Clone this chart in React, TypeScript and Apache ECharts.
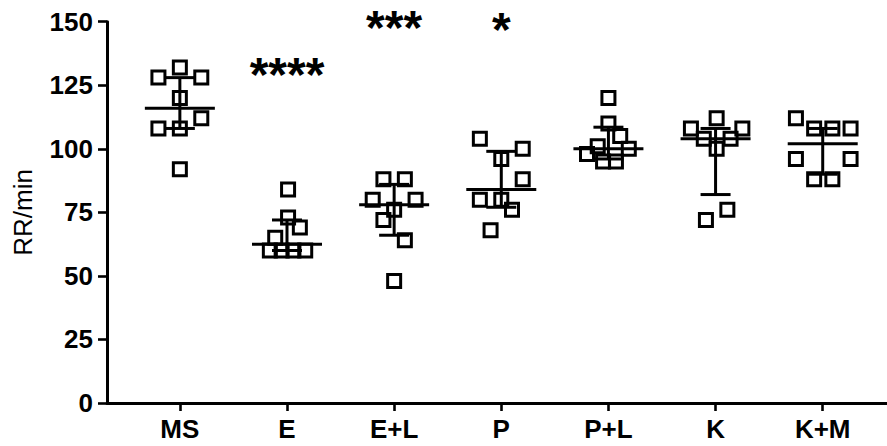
import React, { useEffect, useRef } from "react";
import * as echarts from "echarts";

const categories = ["MS", "E", "E+L", "P", "P+L", "K", "K+M"];

const msValues = [128, 132, 128, 120, 108, 108, 112, 92];
const msJitter = [-0.2, 0, 0.2, 0, -0.2, 0, 0.2, 0];
const eValues = [84, 73, 69, 65, 60, 60, 60, 60];
const eJitter = [0.01, 0.01, 0.12, -0.11, -0.16, -0.05, 0.06, 0.17];
const elValues = [88, 88, 80, 80, 76, 72, 64, 48];
const elJitter = [-0.1, 0.1, -0.2, 0.2, 0, -0.1, 0.1, 0];
const pValues = [104, 100, 96, 88, 80, 80, 76, 68];
const pJitter = [-0.2, 0.2, 0, 0.2, -0.2, 0, 0.1, -0.1];
const plValues = [120, 110, 105, 100, 101, 98, 95, 95];
const plJitter = [0, 0, 0.11, 0.19, -0.1, -0.2, -0.05, 0.07];
const kValues = [112, 108, 108, 104, 104, 100, 76, 72];
const kJitter = [0.01, -0.23, 0.25, -0.11, 0.14, 0.01, 0.11, -0.09];
const kmValues = [112, 108, 108, 108, 96, 96, 88, 88];
const kmJitter = [-0.25, -0.08, 0.09, 0.26, -0.25, 0.26, -0.08, 0.09];

const medians = [116, 62.5, 78, 84, 100, 104, 102];
const q1s = [108, 60, 66, 77, 96, 82, 90];
const q3s = [128, 72, 86, 99, 108.5, 108, 108];

const starLabels = ["****", "***", "*"];
const starCategory = [2, 3, 4];
const starValues = [129.3, 147.6, 147];

const yTicks = [0, 25, 50, 75, 100, 125, 150];

const groupValues = [msValues, eValues, elValues, pValues, plValues, kValues, kmValues];
const groupJitter = [msJitter, eJitter, elJitter, pJitter, plJitter, kJitter, kmJitter];

const FONT = "'Liberation Sans', Arial, sans-serif";
const INK = "#000000";

export default function App() {
  const ref = useRef<HTMLDivElement>(null);

  useEffect(() => {
    document.body.style.margin = "0";
    if (!ref.current) return;
    const chart = echarts.init(ref.current, undefined, { renderer: "svg" });

    const scatterData: number[][] = [];
    groupValues.forEach((vals, gi) => {
      vals.forEach((v, i) => {
        scatterData.push([gi + 1 + groupJitter[gi][i], v]);
      });
    });

    const summaryData = medians.map((m, i) => [i + 1, m, q1s[i], q3s[i]]);
    const starData = starLabels.map((s, i) => ({ value: [starCategory[i], starValues[i]], name: s }));

    chart.setOption({
      animation: false,
      backgroundColor: "#ffffff",
      grid: { left: 107, right: 0, top: 21.7, bottom: 43, containLabel: false },
      xAxis: {
        type: "value",
        min: 0.32,
        max: 7.6,
        axisLine: { show: true, onZero: false, lineStyle: { color: INK, width: 3 } },
        axisTick: {
          show: true,
          customValues: [1, 2, 3, 4, 5, 6, 7],
          length: 8,
          lineStyle: { color: INK, width: 2.6 },
        },
        axisLabel: {
          show: true,
          customValues: [1, 2, 3, 4, 5, 6, 7],
          formatter: (v: number) => categories[Math.round(v) - 1] ?? "",
          color: INK,
          fontFamily: FONT,
          fontWeight: "bold",
          fontSize: 26,
          margin: 13,
        },
        splitLine: { show: false },
      },
      yAxis: {
        type: "value",
        min: 0,
        max: 150,
        interval: 25,
        name: "RR/min",
        nameLocation: "middle",
        nameGap: 71,
        nameRotate: 90,
        nameTextStyle: { color: INK, fontFamily: FONT, fontSize: 26, fontWeight: "normal" },
        axisLine: { show: true, onZero: false, lineStyle: { color: INK, width: 3 } },
        axisTick: { show: true, length: 9, lineStyle: { color: INK, width: 2.6 } },
        axisLabel: {
          show: true,
          color: INK,
          fontFamily: FONT,
          fontWeight: "bold",
          fontSize: 26,
          margin: 14,
          formatter: (v: number) => (yTicks.includes(v) ? String(v) : ""),
        },
        splitLine: { show: false },
      },
      series: [
        {
          type: "scatter",
          data: scatterData,
          symbol: "rect",
          symbolSize: 13,
          itemStyle: { color: "rgba(0,0,0,0)", borderColor: INK, borderWidth: 3, opacity: 1 },
          z: 3,
        },
        {
          type: "custom",
          data: summaryData,
          z: 4,
          renderItem: (params: any, api: any) => {
            const x = api.value(0);
            const med = api.coord([x, api.value(1)]);
            const lo = api.coord([x, api.value(2)]);
            const hi = api.coord([x, api.value(3)]);
            const style = { stroke: INK, lineWidth: 3 };
            return {
              type: "group",
              children: [
                { type: "line", shape: { x1: med[0] - 35, y1: med[1], x2: med[0] + 35, y2: med[1] }, style },
                { type: "line", shape: { x1: lo[0], y1: lo[1], x2: hi[0], y2: hi[1] }, style },
                { type: "line", shape: { x1: lo[0] - 15, y1: lo[1], x2: lo[0] + 15, y2: lo[1] }, style },
                { type: "line", shape: { x1: hi[0] - 15, y1: hi[1], x2: hi[0] + 15, y2: hi[1] }, style },
              ],
            };
          },
        },
        {
          type: "custom",
          data: starData,
          z: 5,
          renderItem: (params: any, api: any) => {
            const p = api.coord([api.value(0), api.value(1)]);
            return {
              type: "text",
              style: {
                text: starLabels[params.dataIndex],
                x: p[0],
                y: p[1],
                align: "center",
                verticalAlign: "middle",
                fill: INK,
                font: `bold 48px ${FONT}`,
              },
            };
          },
        },
      ],
    });

    return () => chart.dispose();
  }, []);

  return <div ref={ref} style={{ width: 887, height: 446 }} />;
}
